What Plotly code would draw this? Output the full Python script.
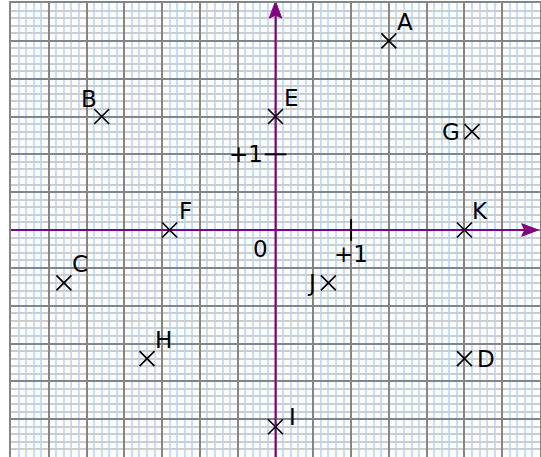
import plotly.graph_objects as go

# ---- data ----
labels = ["A", "B", "C", "D", "E", "F", "G", "H", "I", "J", "K"]
x_vals = [1.5, -2.3, -2.8, 2.5, 0.0, -1.4, 2.6, -1.7, 0.0, 0.7, 2.5]
y_vals = [2.5, 1.5, -0.7, -1.7, 1.5, 0.0, 1.3, -1.7, -2.6, -0.7, 0.0]
label_sides = ["ne", "nw", "ne", "e", "ne", "ne", "w", "ne", "ene", "w", "ne"]
tick_label = "+1"
origin_label = "0"

# ---- style ----
FONT = dict(family="DejaVu Sans", size=23, color="black")
PURPLE = "#800080"
X_RANGE = [-3.5, 3.5]
Y_RANGE = [-3.0, 3.0]
SIDE_STYLE = {
    "ne": dict(xanchor="center", yanchor="middle", xshift=16, yshift=19),
    "nw": dict(xanchor="center", yanchor="middle", xshift=-13, yshift=18),
    "e": dict(xanchor="left", yanchor="middle", xshift=11, yshift=0),
    "w": dict(xanchor="right", yanchor="middle", xshift=-10, yshift=0),
    "ene": dict(xanchor="left", yanchor="middle", xshift=11, yshift=10),
}
ARROW_LEN = 0.22
ARROW_HW = 0.083
ARROW_NOTCH = 0.04
X_TIP = 3.478
Y_TIP = 3.02
TICK_HALF = 0.143

fig = go.Figure()

fig.add_trace(go.Scatter(
    x=x_vals, y=y_vals, mode="markers",
    marker=dict(symbol="x-thin", size=15, line=dict(width=1.7, color="black"), color="black"),
    hoverinfo="skip", showlegend=False,
))

shapes = []
# x axis line + arrow
xb = X_TIP - ARROW_LEN
shapes.append(dict(type="line", xref="x", yref="y", x0=X_RANGE[0], y0=0, x1=xb + ARROW_NOTCH, y1=0,
                   line=dict(color=PURPLE, width=2), layer="between"))
shapes.append(dict(type="path", xref="x", yref="y",
                   path=f"M{X_TIP},0 L{xb},{ARROW_HW} L{xb + ARROW_NOTCH},0 L{xb},{-ARROW_HW} Z",
                   fillcolor=PURPLE, line=dict(color=PURPLE, width=1), layer="between"))
# y axis line + arrow
yb = Y_TIP - ARROW_LEN
shapes.append(dict(type="line", xref="x", yref="y", x0=0, y0=Y_RANGE[0], x1=0, y1=yb + ARROW_NOTCH,
                   line=dict(color=PURPLE, width=2), layer="between"))
shapes.append(dict(type="path", xref="x", yref="y",
                   path=f"M0,{Y_TIP} L{ARROW_HW},{yb} L0,{yb + ARROW_NOTCH} L{-ARROW_HW},{yb} Z",
                   fillcolor=PURPLE, line=dict(color=PURPLE, width=1), layer="between"))
# unit ticks
shapes.append(dict(type="line", xref="x", yref="y", x0=1, y0=-TICK_HALF, x1=1, y1=TICK_HALF,
                   line=dict(color="black", width=2), layer="between"))
shapes.append(dict(type="line", xref="x", yref="y", x0=-TICK_HALF, y0=1, x1=TICK_HALF, y1=1,
                   line=dict(color="black", width=2), layer="between"))

annotations = []
for lab, xv, yv, side in zip(labels, x_vals, y_vals, label_sides):
    st = SIDE_STYLE[side]
    annotations.append(dict(x=xv, y=yv, xref="x", yref="y", text=lab, showarrow=False, font=FONT, **st))
annotations.append(dict(x=1, y=0, xref="x", yref="y", text=tick_label, showarrow=False, font=FONT,
                        xanchor="center", yanchor="middle", xshift=0, yshift=-24))
annotations.append(dict(x=0, y=1, xref="x", yref="y", text=tick_label, showarrow=False, font=FONT,
                        xanchor="right", yanchor="middle", xshift=-11, yshift=0))
annotations.append(dict(x=0, y=0, xref="x", yref="y", text=origin_label, showarrow=False, font=FONT,
                        xanchor="center", yanchor="middle", xshift=-15.5, yshift=-19))

axis_common = dict(
    dtick=0.5, tick0=0, showgrid=True, gridcolor="#858585", gridwidth=2,
    zeroline=False, showticklabels=False, ticks="",
    showline=True, mirror=True, linecolor="#858585", linewidth=2,
)

fig.update_layout(
    width=541, height=457,
    margin=dict(l=11, r=1, t=3, b=0),
    paper_bgcolor="white", plot_bgcolor="white",
    xaxis=dict(range=X_RANGE, **axis_common,
               minor=dict(dtick=0.1, tick0=0, showgrid=True, gridcolor="#c2dffc", gridwidth=2)),
    yaxis=dict(range=Y_RANGE, **axis_common,
               minor=dict(dtick=0.1, tick0=0, showgrid=True, gridcolor="#cdcdcd", gridwidth=2)),
    shapes=shapes, annotations=annotations,
    showlegend=False,
)

fig.write_html("out.html", config={"displayModeBar": False},
               post_script="document.body.style.margin='0';document.body.style.overflow='hidden';")
